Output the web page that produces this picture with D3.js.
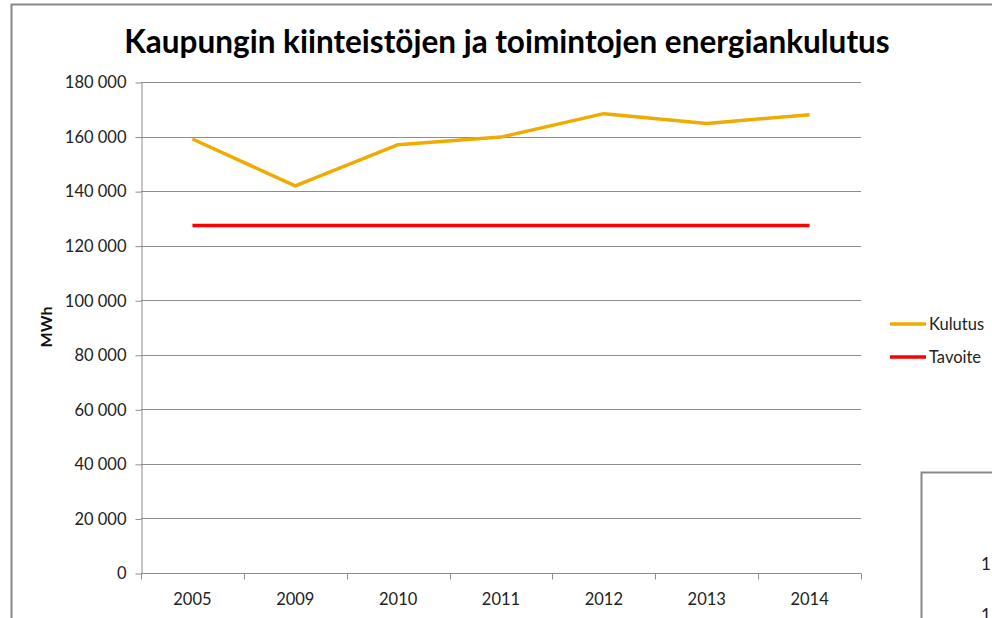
<!DOCTYPE html>
<html>
<head>
<meta charset="utf-8">
<script src="https://cdn.jsdelivr.net/npm/d3@7/dist/d3.min.js"></script>
<style>
  body { margin: 0; background: #fff; }
  svg { display: block; font-family: Lato, "Open Sans", sans-serif; }
</style>
</head>
<body>
<div id="chart"></div>
<script>
var years = ["2005", "2009", "2010", "2011", "2012", "2013", "2014"];
var kulutus = [159100, 141900, 157000, 159800, 168400, 164800, 168000];
var tavoite = [127400, 127400, 127400, 127400, 127400, 127400, 127400];
var yTicks = [0, 20000, 40000, 60000, 80000, 100000, 120000, 140000, 160000, 180000];
var seriesNames = ["Kulutus", "Tavoite"];
var seriesColors = ["#f0ab00", "#ff0000"];

var width = 992, height = 618;
var plotLeft = 141, plotRight = 861, plotTop = 82, plotBottom = 573;

var svg = d3.select("#chart").append("svg")
    .attr("width", width)
    .attr("height", height);

// outer frame of the chart object, plus the edge of the next one
svg.append("rect")
    .attr("x", 11.5).attr("y", 4.5)
    .attr("width", 1000).attr("height", 700)
    .attr("fill", "none").attr("stroke", "#888").attr("stroke-width", 2);
svg.append("rect")
    .attr("x", 921.5).attr("y", 472.5)
    .attr("width", 200).attr("height", 300)
    .attr("fill", "#fff").attr("stroke", "#888").attr("stroke-width", 2);
svg.append("text").attr("x", 981).attr("y", 570).attr("font-size", 17).attr("fill", "#222").text("1");
svg.append("text").attr("x", 981).attr("y", 621).attr("font-size", 17).attr("fill", "#222").text("1");

var x = d3.scaleBand().domain(years).range([plotLeft, plotRight]);
var y = d3.scaleLinear().domain([0, 180000]).range([plotBottom, plotTop]);

var fmt = function (d) { return d3.format(",")(d).replace(/,/g, " "); };

// gridlines
svg.append("g")
    .selectAll("line")
    .data(yTicks.slice(1))
    .enter().append("line")
    .attr("x1", plotLeft).attr("x2", plotRight)
    .attr("y1", d => Math.round(y(d)) + 0.5)
    .attr("y2", d => Math.round(y(d)) + 0.5)
    .attr("stroke", "#8c8c8c").attr("stroke-width", 1);

// y axis
var yAxis = svg.append("g")
    .attr("transform", "translate(" + (plotLeft + 0.5) + ",0.5)")
    .call(d3.axisLeft(y).tickValues(yTicks).tickFormat(fmt).tickSize(6).tickSizeOuter(0).tickPadding(9));
yAxis.selectAll("line, path").attr("stroke", "#8c8c8c");
yAxis.selectAll("text").attr("font-size", 16.5).attr("fill", "#222").attr("font-family", "Lato, sans-serif");

// x axis with ticks at category boundaries
var xAxis = svg.append("g")
    .attr("transform", "translate(0," + (plotBottom + 0.5) + ")");
xAxis.append("line")
    .attr("x1", plotLeft).attr("x2", plotRight)
    .attr("stroke", "#8c8c8c");
xAxis.selectAll("line.tk")
    .data(years.concat(["end"]))
    .enter().append("line")
    .attr("class", "tk")
    .attr("x1", (d, i) => Math.round(plotLeft + i * x.step()) + 0.5)
    .attr("x2", (d, i) => Math.round(plotLeft + i * x.step()) + 0.5)
    .attr("y1", 0).attr("y2", 6)
    .attr("stroke", "#8c8c8c");
xAxis.selectAll("text")
    .data(years)
    .enter().append("text")
    .attr("x", d => x(d) + x.bandwidth() / 2)
    .attr("y", 31)
    .attr("text-anchor", "middle")
    .attr("font-size", 16.5)
    .attr("fill", "#222")
    .text(d => d);

// y axis title
svg.append("text")
    .attr("transform", "translate(52,327) rotate(-90)")
    .attr("text-anchor", "middle")
    .attr("font-size", 16)
    .attr("font-weight", "bold")
    .attr("fill", "#111")
    .text("MWh");

// title
svg.append("text")
    .attr("x", 507).attr("y", 53)
    .attr("text-anchor", "middle")
    .attr("font-size", 31.5)
    .attr("font-weight", "bold")
    .attr("fill", "#000")
    .text("Kaupungin kiinteistöjen ja toimintojen energiankulutus");

// lines
var line = d3.line()
    .x((d, i) => x(years[i]) + x.bandwidth() / 2)
    .y(d => y(d));

[kulutus, tavoite].forEach(function (s, i) {
    svg.append("path")
        .datum(s)
        .attr("d", line)
        .attr("fill", "none")
        .attr("stroke", seriesColors[i])
        .attr("stroke-width", 3.5)
        .attr("stroke-linejoin", "round");
});

// legend
var legend = svg.append("g")
    .selectAll("g")
    .data(seriesNames)
    .enter().append("g")
    .attr("transform", (d, i) => "translate(890," + (324 + i * 33) + ")");
legend.append("line")
    .attr("x1", 0).attr("x2", 36)
    .attr("stroke", (d, i) => seriesColors[i])
    .attr("stroke-width", 3.5);
legend.append("text")
    .attr("x", 39).attr("y", 5.5)
    .attr("font-size", 16.5)
    .attr("fill", "#222")
    .text(d => d);
</script>
</body>
</html>
